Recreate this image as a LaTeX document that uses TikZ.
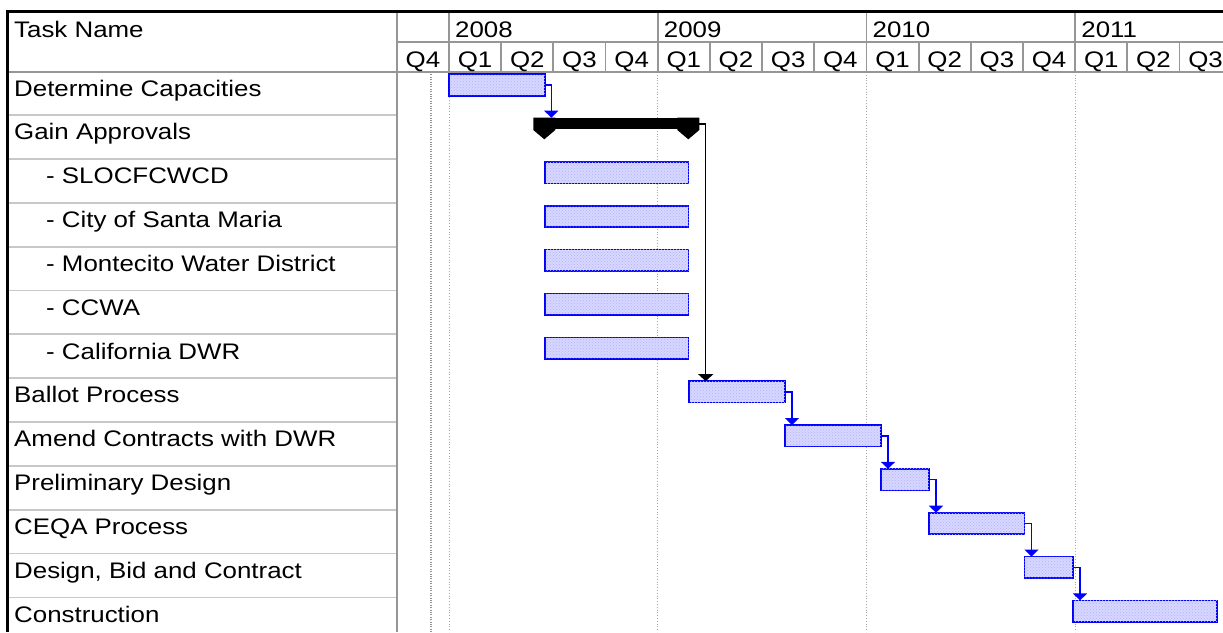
\documentclass[tikz,border=0pt]{standalone}
\usepackage{fontspec}
\setmainfont{Liberation Sans}[FakeStretch=1.15]
\usetikzlibrary{arrows.meta,patterns}
\definecolor{barfill}{RGB}{215,215,255}
\definecolor{gridgray}{RGB}{150,150,150}
\definecolor{rowgray}{RGB}{200,200,200}
\tikzset{
  taskbar/.style={draw=blue, line width=1.6pt, fill=barfill, inner sep=0pt, outer sep=0pt, minimum height=21.5pt, anchor=north west,
    postaction={pattern=crosshatch dots, pattern color=blue!30}},
  sumbar/.style={fill=black, inner sep=0pt, outer sep=0pt, minimum height=11.3pt, anchor=north west},
  tasklabel/.style={anchor=base west, inner sep=0pt},
  qlabel/.style={anchor=base, inner sep=0pt},
  bluelink/.style={draw=blue, line width=1.6pt, -{Triangle[width=14pt,length=7pt]}},
  blacklink/.style={draw=black, line width=1.4pt, -{Triangle[width=15pt,length=7pt]}},
  hdrline/.style={draw=gridgray, line width=1.8pt},
  rowline/.style={draw=rowgray, line width=1.8pt},
  yearline/.style={draw=gray!70, line width=0.8pt, dotted},
}
\begin{document}
\begin{tikzpicture}[x=1pt,y=-1pt,font=\fontsize{22.5}{27}\selectfont]
\useasboundingbox (0,0) rectangle (1223,632);
% date lines
\draw[draw=gray!85, line width=2.4pt, dash pattern=on 1pt off 1.4pt] (430.7,72) -- (430.7,632);
\foreach \x in {449,657.7,866.4,1075.1}
  \draw[yearline] (\x,72) -- (\x,632);
% grid
\foreach \k in {1,...,12}
  \draw[rowline] (8,{71.2+43.85*\k}) -- (397,{71.2+43.85*\k});
\draw[hdrline] (397,41.7) -- (1223,41.7);
\draw[hdrline] (8,71.7) -- (1223,71.7);
\draw[hdrline] (396.8,11.5) -- (396.8,632);
\foreach \i in {0,...,14}
  \draw[hdrline] ({449+52.18*\i},41.7) -- ({449+52.18*\i},71.7);
\foreach \i in {0,4,8,12}
  \draw[hdrline] ({449+52.18*\i},11.5) -- ({449+52.18*\i},41.7);
\draw[line width=3pt] (7.5,632) -- (7.5,11.5) -- (1223,11.5);
% header texts
\node[tasklabel] (hdr) at (14,37) {Task Name};
\foreach \yr [count=\j from 0] in {2008,2009,2010,2011}
  \node[tasklabel] (y\yr) at ({455+208.72*\j},37.3) {\yr};
\foreach \q [count=\i from 0] in {Q4,Q1,Q2,Q3,Q4,Q1,Q2,Q3,Q4,Q1,Q2,Q3,Q4,Q1,Q2,Q3}
  \node[qlabel] (q\i) at ({449+52.18*(\i-1)+26.09},67.7) {\q};
% task names
\foreach \t/\xo [count=\k from 0] in {Determine Capacities/14, Gain Approvals/14,
    - SLOCFCWCD/46, - City of Santa Maria/46, - Montecito Water District/46,
    - CCWA/46, - California DWR/46, Ballot Process/14, Amend Contracts with DWR/14,
    Preliminary Design/14, CEQA Process/14, {Design, Bid and Contract}/14, Construction/14}
  \node[tasklabel] (t\k) at (\xo,{96+43.85*\k}) {\t};
% bars
\node[taskbar, minimum width=96pt] (det) at (449,74.2) {};
\node[sumbar, minimum width=144pt] (gainbar) at (544.3,117.7) {};
\fill ([shift={(-11,0)}]gainbar.north west) -- ++(22,0) -- ++(0,12.3) -- ++(-11,9.3) -- ++(-11,-9.3) -- cycle;
\fill ([shift={(-11,0)}]gainbar.north east) -- ++(22,0) -- ++(0,12.3) -- ++(-11,9.3) -- ++(-11,-9.3) -- cycle;
\coordinate (gainR) at ([shift={(11,6.3)}]gainbar.north east);
\foreach \k in {2,...,6}
  \node[taskbar, minimum width=143.5pt] (sub\k) at (545,{74.2+43.85*\k}) {};
\node[taskbar, minimum width=96pt] (ballot) at (689,{74.2+43.85*7}) {};
\node[taskbar, minimum width=96pt] (amend) at (785,{74.2+43.85*8}) {};
\node[taskbar, minimum width=48pt] (prelim) at (881,{74.2+43.85*9}) {};
\node[taskbar, minimum width=95.5pt] (ceqa) at (929,{74.2+43.85*10}) {};
\node[taskbar, minimum width=48.5pt] (design) at (1024.5,{74.2+43.85*11}) {};
\node[taskbar, minimum width=144pt] (constr) at (1073,{74.2+43.85*12}) {};
% links
\draw[bluelink] (det.east) -| ([xshift=7pt]gainbar.north west);
\draw[blacklink] (gainR) -- ++(6.4,0) coordinate (gk) -- (gk |- ballot.north);
\draw[bluelink] (ballot.east) -| ([xshift=7pt]amend.north west);
\draw[bluelink] (amend.east) -| ([xshift=7pt]prelim.north west);
\draw[bluelink] (prelim.east) -| ([xshift=7pt]ceqa.north west);
\draw[bluelink] (ceqa.east) -| ([xshift=7pt]design.north west);
\draw[bluelink] (design.east) -| ([xshift=7pt]constr.north west);
\end{tikzpicture}
\end{document}
